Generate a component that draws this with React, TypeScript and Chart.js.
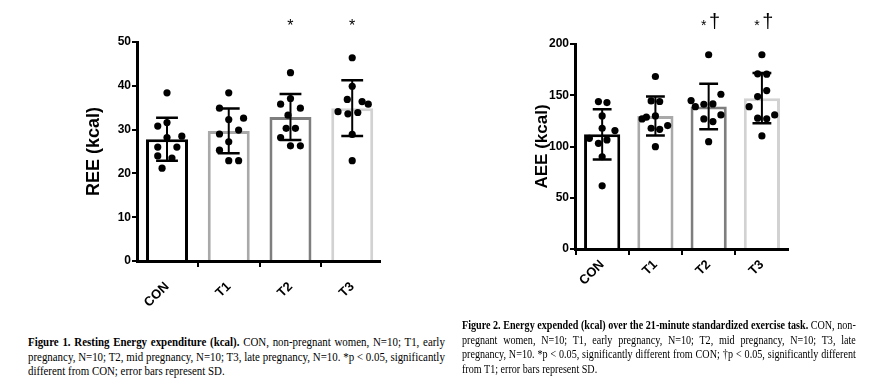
import React, { useEffect, useLayoutEffect, useRef } from "react";
import { Chart, registerables } from "chart.js";
Chart.register(...registerables);

// ---------- data ----------
const categories = ["CON", "T1", "T2", "T3"];

// Figure 1: Resting energy expenditure (kcal)
const reeMean = [27.8, 29.7, 32.9, 34.9];
const reeSD = [4.9, 5.1, 5.25, 6.35];
const reeCON = [38.4, 30.8, 31.6, 28.2, 28.5, 26.0, 26.0, 24.0, 23.5, 21.2];
const reeT1 = [38.4, 34.9, 32.3, 32.6, 29.0, 29.9, 27.2, 25.3, 22.9, 22.9];
const reeT2 = [43.0, 37.1, 35.8, 34.9, 33.3, 30.3, 30.3, 28.2, 26.3, 26.3];
const reeT3 = [46.4, 39.9, 36.9, 36.4, 35.8, 34.1, 33.6, 33.9, 28.9, 22.9];
const reeJitCON = [0, -0.15, 0, 0, 0.24, -0.15, 0.16, -0.15, 0.08, -0.08];
const reeJitT1 = [0, -0.15, 0, 0.24, -0.15, 0.16, 0, -0.15, 0, 0.16];
const reeJitT2 = [0, 0, -0.16, 0.16, -0.04, -0.07, 0.08, -0.16, 0, 0.16];
const reeJitT3 = [0, 0, -0.08, 0.16, 0.26, -0.23, -0.07, 0.09, 0, 0];
const reeStar = ["", "", "*", "*"];
const reeDagger = ["", "", "", ""];
const reeTicks = [0, 10, 20, 30, 40, 50];

// Figure 2: Energy expended during exercise (kcal)
const aeeMean = [111.9, 129.7, 139.0, 147.1];
const aeeSD = [24.5, 19.0, 22.2, 24.5];
const aeeCON = [143.8, 142.9, 129.8, 117.8, 115.5, 108.0, 103.1, 106.4, 90.0, 61.6];
const aeeT1 = [168.3, 144.5, 143.9, 126.9, 128.6, 129.8, 120.4, 117.8, 116.8, 99.8];
const aeeT2 = [189.5, 144.8, 151.0, 138.9, 141.2, 141.5, 130.8, 126.9, 124.3, 104.7];
const aeeT3 = [189.5, 170.9, 170.6, 154.6, 148.7, 138.9, 130.8, 127.6, 127.0, 110.3];
const aeeJitCON = [-0.07, 0.09, 0, 0, 0.24, -0.24, -0.07, 0.09, 0, 0];
const aeeJitT1 = [0, -0.08, 0.08, -0.25, -0.17, 0, 0.23, -0.08, 0.08, 0];
const aeeJitT2 = [0, -0.33, 0.23, -0.25, -0.09, 0.08, 0.23, -0.09, 0.08, 0];
const aeeJitT3 = [0, -0.08, 0.09, 0.09, -0.08, -0.24, 0.24, -0.08, 0.09, 0];
const aeeStar = ["", "", "*", "*"];
const aeeDagger = ["", "", "†", "†"];
const aeeTicks = [0, 50, 100, 150, 200];

// ---------- styles ----------
const barColors = ["#000000", "#a9a9a9", "#7e7e7e", "#d2d2d2"];
const SANS = "'Liberation Sans', Arial, sans-serif";
const SERIF = "'Liberation Serif', 'Times New Roman', serif";

type PanelProps = {
  left: number;
  top: number;
  width: number;
  height: number;
  pad: { left: number; right: number; top: number; bottom: number };
  yWidth: number;
  xHeight: number;
  xLabelPad: number;
  xMin: number;
  xMax: number;
  yMax: number;
  yTicks: number[];
  yTitle: string;
  yTitleSize: number;
  mean: number[];
  sd: number[];
  dots: number[][];
  jitter: number[][];
  star: string[];
  dagger: string[];
  starFont: number;
  starBaseline: number;
  starDx: number;
  daggerBaseline: number;
  daggerDx: number;
};

function Panel(p: PanelProps) {
  const ref = useRef<HTMLCanvasElement>(null);
  useEffect(() => {
    const canvas = ref.current;
    if (!canvas) return;

    const errorBars = {
      id: "errorBars",
      afterDatasetsDraw(chart: any) {
        const { ctx } = chart;
        const x = chart.scales.x;
        const y = chart.scales.y;
        const bars = chart.getDatasetMeta(0).data;
        ctx.save();
        ctx.strokeStyle = "#000";
        p.mean.forEach((m, i) => {
          const px = x.getPixelForValue(i);
          const t = y.getPixelForValue(m + p.sd[i]);
          const b = y.getPixelForValue(m - p.sd[i]);
          const cap = (bars[i] ? bars[i].width : 40) * 0.52;
          ctx.lineWidth = 2;
          ctx.beginPath();
          ctx.moveTo(px, t);
          ctx.lineTo(px, b);
          ctx.stroke();
          ctx.lineWidth = 2.5;
          ctx.beginPath();
          ctx.moveTo(px - cap / 2, t);
          ctx.lineTo(px + cap / 2, t);
          ctx.moveTo(px - cap / 2, b);
          ctx.lineTo(px + cap / 2, b);
          ctx.stroke();
        });
        ctx.restore();
      },
    };

    const marks = {
      id: "marks",
      afterDraw(chart: any) {
        const { ctx, chartArea } = chart;
        const x = chart.scales.x;
        ctx.save();
        ctx.fillStyle = "#000";
        ctx.textAlign = "center";
        ctx.textBaseline = "alphabetic";
        categories.forEach((_, i) => {
          const px = x.getPixelForValue(i);
          if (p.star[i]) {
            ctx.font = `${p.starFont}px ${SANS}`;
            ctx.fillText(p.star[i], px + p.starDx, chartArea.top - p.starBaseline);
          }
          if (p.dagger[i]) {
            ctx.font = `20px ${SANS}`;
            ctx.fillText(p.dagger[i], px + p.daggerDx, chartArea.top - p.daggerBaseline);
          }
        });
        ctx.restore();
      },
    };

    const scatterData: { x: number; y: number }[] = [];
    p.dots.forEach((g, i) =>
      g.forEach((v, j) => scatterData.push({ x: i + p.jitter[i][j], y: v }))
    );

    const chart = new Chart(canvas, {
      type: "bar",
      data: {
        datasets: [
          {
            type: "bar",
            data: p.mean.map((m, i) => ({ x: i, y: m })),
            backgroundColor: "#ffffff",
            borderColor: barColors,
            borderWidth: 3,
            borderSkipped: "bottom",
            barPercentage: 0.68,
            categoryPercentage: 1,
            order: 2,
          } as any,
          {
            type: "scatter",
            data: scatterData,
            pointRadius: 3.6,
            pointBackgroundColor: "#000",
            pointBorderWidth: 0,
            order: 1,
          } as any,
        ],
      },
      options: {
        animation: false,
        responsive: false,
        maintainAspectRatio: false,
        events: [],
        layout: { padding: p.pad },
        plugins: { legend: { display: false }, tooltip: { enabled: false } },
        scales: {
          x: {
            type: "linear",
            min: p.xMin,
            max: p.xMax,
            offset: false,
            grid: {
              display: true,
              drawOnChartArea: false,
              drawTicks: true,
              tickLength: 6,
              color: "#000",
              lineWidth: 2,
            },
            border: { display: true, color: "#000", width: 3 },
            ticks: {
              autoSkip: false,
              minRotation: 45,
              maxRotation: 45,
              padding: p.xLabelPad,
              color: "#000",
              font: { family: SANS, size: 13, weight: "bold" },
              callback: (v: any) => categories[v as number] ?? "",
            },
            afterBuildTicks: (s: any) => {
              s.ticks = categories.map((_, i) => ({ value: i }));
            },
            afterFit: (s: any) => {
              s.height = p.xHeight;
            },
          } as any,
          y: {
            type: "linear",
            min: 0,
            max: p.yMax,
            grid: {
              display: true,
              drawOnChartArea: false,
              drawTicks: true,
              tickLength: 5,
              color: "#000",
              lineWidth: 2,
            },
            border: { display: true, color: "#000", width: 3 },
            ticks: {
              padding: 1,
              color: "#000",
              font: { family: SANS, size: 12, weight: "bold" },
            },
            afterBuildTicks: (s: any) => {
              s.ticks = p.yTicks.map((v) => ({ value: v }));
            },
            title: {
              display: true,
              text: p.yTitle,
              color: "#000",
              padding: 0,
              font: { family: SANS, size: p.yTitleSize, weight: "bold", lineHeight: 1.2 },
            },
            afterFit: (s: any) => {
              s.width = p.yWidth;
            },
          } as any,
        },
      },
      plugins: [errorBars, marks],
    });
    return () => chart.destroy();
  }, []);

  return (
    <canvas
      ref={ref}
      width={p.width}
      height={p.height}
      style={{
        position: "absolute",
        left: p.left,
        top: p.top,
        width: p.width,
        height: p.height,
      }}
    />
  );
}

type Seg = { text: string; bold?: boolean };

function Caption({
  lines,
  left,
  top,
  width,
}: {
  lines: Seg[][];
  left: number;
  top: number;
  width: number;
}) {
  const ref = useRef<HTMLDivElement>(null);
  useLayoutEffect(() => {
    const el = ref.current;
    if (!el) return;
    const rows = Array.from(el.children) as HTMLElement[];
    let maxW = 0;
    rows.forEach((r) => {
      const sp = r.firstElementChild as HTMLElement;
      maxW = Math.max(maxW, sp.getBoundingClientRect().width);
    });
    const s = Math.min(1, width / maxW);
    el.style.width = width / s + 1 + "px";
    el.style.transform = `scaleX(${s})`;
    rows.forEach((r, i) => {
      r.style.whiteSpace = "normal";
      r.style.textAlign = "justify";
      (r.style as any).textAlignLast = i < rows.length - 1 ? "justify" : "left";
    });
  }, []);
  return (
    <div
      ref={ref}
      style={{
        position: "absolute",
        left,
        top,
        width: 2000,
        transformOrigin: "0 0",
        fontFamily: SERIF,
        fontSize: 13,
        lineHeight: "14.5px",
        color: "#000",
      }}
    >
      {lines.map((ln, i) => (
        <div key={i} style={{ whiteSpace: "nowrap" }}>
          <span>
            {ln.map((sg, j) => (
              <span key={j} style={{ fontWeight: sg.bold ? "bold" : "normal" }}>
                {sg.text}
              </span>
            ))}
          </span>
        </div>
      ))}
    </div>
  );
}

const caption1: Seg[][] = [
  [
    { text: "Figure 1. Resting Energy expenditure (kcal).", bold: true },
    { text: " CON, non-pregnant women, N=10; T1, early" },
  ],
  [{ text: "pregnancy, N=10; T2, mid pregnancy, N=10; T3, late pregnancy, N=10. *p < 0.05, significantly" }],
  [{ text: "different from CON; error bars represent SD." }],
];

const caption2: Seg[][] = [
  [
    { text: "Figure 2. Energy expended (kcal) over the 21-minute standardized exercise task.", bold: true },
    { text: " CON, non-" },
  ],
  [{ text: "pregnant women, N=10; T1, early pregnancy, N=10; T2, mid pregnancy, N=10; T3, late" }],
  [{ text: "pregnancy, N=10. *p < 0.05, significantly different from CON; †p < 0.05, significantly different" }],
  [{ text: "from T1; error bars represent SD." }],
];

export default function App() {
  return (
    <div
      style={{
        position: "absolute",
        left: 0,
        top: 0,
        width: 870,
        height: 386,
        background: "#fff",
        overflow: "hidden",
      }}
    >
      <Panel
        left={0}
        top={0}
        width={440}
        height={320}
        pad={{ left: 83, right: 60, top: 42, bottom: 9 }}
        yWidth={54}
        xHeight={50}
        xLabelPad={12}
        xMin={-0.486}
        xMax={3.45}
        yMax={50}
        yTicks={reeTicks}
        yTitle="REE (kcal)"
        yTitleSize={18}
        mean={reeMean}
        sd={reeSD}
        dots={[reeCON, reeT1, reeT2, reeT3]}
        jitter={[reeJitCON, reeJitT1, reeJitT2, reeJitT3]}
        star={reeStar}
        dagger={reeDagger}
        starFont={16}
        starBaseline={11}
        starDx={0}
        daggerBaseline={16}
        daggerDx={0}
      />
      <Panel
        left={440}
        top={0}
        width={430}
        height={320}
        pad={{ left: 92, right: 82, top: 44, bottom: 21 }}
        yWidth={43}
        xHeight={50}
        xLabelPad={2}
        xMin={-0.51}
        xMax={3.49}
        yMax={200}
        yTicks={aeeTicks}
        yTitle="AEE (kcal)"
        yTitleSize={17}
        mean={aeeMean}
        sd={aeeSD}
        dots={[aeeCON, aeeT1, aeeT2, aeeT3]}
        jitter={[aeeJitCON, aeeJitT1, aeeJitT2, aeeJitT3]}
        star={aeeStar}
        dagger={aeeDagger}
        starFont={14}
        starBaseline={14}
        starDx={-5}
        daggerBaseline={16.5}
        daggerDx={6}
      />
      <Caption lines={caption1} left={28} top={335} width={416} />
      <Caption lines={caption2} left={462} top={318} width={393} />
    </div>
  );
}
